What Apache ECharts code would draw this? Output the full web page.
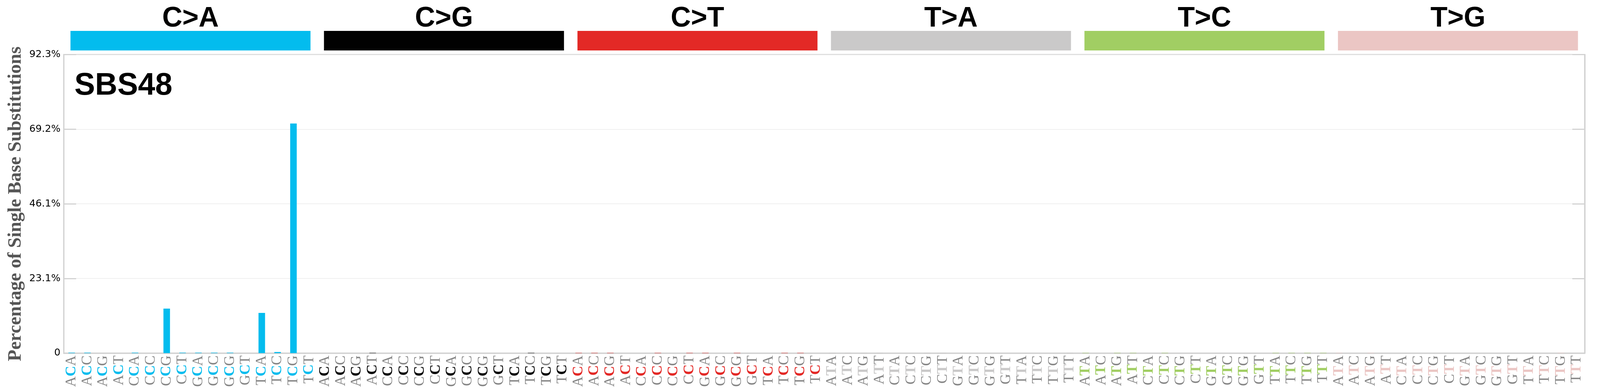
<!DOCTYPE html>
<html><head><meta charset="utf-8">
<script src="https://cdn.jsdelivr.net/npm/echarts@6/dist/echarts.min.js"></script>
<style>html,body{margin:0;padding:0;background:#fff;overflow:hidden}#c{width:100vw;height:100vh}</style>
</head><body><div id="c"></div>
<script>
const mutationTypes = ['C>A', 'C>G', 'C>T', 'T>A', 'T>C', 'T>G'];
const typeColors = ['#03BCEE', '#010101', '#E32926', '#CAC9C9', '#A1CE63', '#EBC6C4'];
const bases = ['A', 'C', 'G', 'T'];
const refBases = ['C', 'C', 'C', 'T', 'T', 'T'];
const yTickLabels = ['0', '23.1%', '46.1%', '69.2%', '92.3%'];
const yMax = 92.3;
const yStep = 23.075;
const signatureName = 'SBS48';
const yTitle = 'Percentage of Single Base Substitutions';

// percent of single base substitutions, 16 contexts per mutation type (5' A..T, 3' A..T)
const valCA = [0.15, 0.15, 0, 0, 0.15, 0, 13.78, 0.15, 0.15, 0.15, 0.15, 0, 12.45, 0.35, 71.0, 0];
const valCG = [0, 0, 0, 0.1, 0, 0, 0, 0, 0, 0, 0, 0, 0, 0.1, 0, 0];
const valCT = [0.1, 0.1, 0.1, 0, 0, 0.1, 0, 0.1, 0.1, 0, 0.1, 0, 0, 0.1, 0.1, 0];
const valTA = [0.1, 0.1, 0.1, 0.1, 0, 0, 0.1, 0.1, 0, 0, 0, 0, 0, 0, 0, 0.1];
const valTC = [0.1, 0, 0.1, 0.1, 0, 0.1, 0, 0, 0, 0, 0, 0, 0.1, 0.1, 0.1, 0.1];
const valTG = [0.1, 0, 0.1, 0, 0, 0, 0, 0, 0, 0, 0, 0, 0, 0, 0.1, 0];
const groupBand = [1, 1, 1, 1, 1, 1];

const groupValues = [valCA, valCG, valCT, valTA, valTC, valTG];
const categories = [];
const catGroup = [];
const values = [];
mutationTypes.forEach((t, g) => {
  let k = 0;
  bases.forEach(b5 => {
    bases.forEach(b3 => {
      categories.push(b5 + refBases[g] + b3);
      catGroup.push(g);
      values.push({ value: groupValues[g][k], itemStyle: { color: typeColors[g] } });
      k++;
    });
  });
});

const el = document.getElementById('c');
const W = el.clientWidth, H = el.clientHeight;
const sx = W / 4393, sy = H / 992, sf = Math.sqrt(sx * sy);
const X = v => v * sx, Y = v => v * sy, F = v => v * sf, FV = v => v * sy;

const rich = { g: { fontFamily: 'Liberation Serif', fontSize: FV(37), color: '#858585' } };
typeColors.forEach((c, i) => {
  rich['m' + i] = { fontFamily: 'Liberation Serif', fontSize: FV(37), fontWeight: 'bold', color: c };
});

const chart = echarts.init(el, null, { renderer: 'canvas' });
chart.setOption({
  animation: false,
  backgroundColor: '#fff',
  title: {
    text: signatureName, left: X(199), top: Y(176),
    textStyle: { fontFamily: 'Liberation Sans', fontWeight: 'bold', fontSize: F(82), color: '#000' }
  },
  grid: [
    { left: X(175), right: X(42), top: Y(139.5), bottom: Y(89), show: true, borderColor: '#d3d3d3', borderWidth: 3 },
    { left: X(175), right: X(42), top: Y(79), height: Y(50) }
  ],
  xAxis: [
    {
      type: 'category', gridIndex: 0, data: categories,
      axisLine: { show: true, lineStyle: { color: '#d3d3d3', width: 3 } },
      axisTick: { show: false },
      axisLabel: {
        interval: 0, rotate: 90, margin: Y(6),
        formatter: (v, i) => '{g|' + v[0] + '}{m' + catGroup[i] + '|' + v[1] + '}{g|' + v[2] + '}',
        rich: rich
      },
      splitLine: { show: false }
    },
    {
      type: 'category', gridIndex: 1, data: mutationTypes,
      axisLine: { show: false }, axisTick: { show: false }, axisLabel: { show: false }
    }
  ],
  yAxis: [
    {
      type: 'value', gridIndex: 0, min: 0, max: yMax, interval: yStep,
      name: yTitle, nameLocation: 'middle', nameRotate: 90, nameGap: X(88),
      nameTextStyle: { fontFamily: 'Liberation Serif', fontWeight: 'bold', fontSize: FV(48), color: '#555555' },
      axisLine: { show: true, lineStyle: { color: '#d3d3d3', width: 3 } },
      axisTick: { show: true, inside: true, length: X(34), lineStyle: { color: '#d3d3d3', width: 3 } },
      axisLabel: {
        margin: X(9), fontFamily: 'DejaVu Sans', fontSize: F(26), color: '#000',
        formatter: v => yTickLabels[Math.round(v / yStep)]
      },
      splitLine: { show: true, lineStyle: { color: '#ebebeb', width: 1.5 } }
    },
    {
      type: 'value', gridIndex: 0, min: 0, max: yMax, interval: yStep, position: 'right',
      axisLine: { show: true, lineStyle: { color: '#d3d3d3', width: 3 } },
      axisTick: { show: true, inside: true, length: X(34), lineStyle: { color: '#d3d3d3', width: 3 } },
      axisLabel: { show: false }, splitLine: { show: false }
    },
    {
      type: 'value', gridIndex: 1, min: 0, max: 1, show: false
    }
  ],
  series: [
    {
      type: 'bar', xAxisIndex: 0, yAxisIndex: 0, data: values, barWidth: X(18)
    },
    {
      type: 'bar', xAxisIndex: 1, yAxisIndex: 2, barWidth: X(659),
      data: groupBand.map((v, i) => ({ value: v, itemStyle: { color: typeColors[i] } })),
      label: {
        show: true, position: 'top', distance: Y(-5),
        formatter: p => mutationTypes[p.dataIndex],
        fontFamily: 'Liberation Sans', fontWeight: 'bold', fontSize: F(74), color: '#000'
      }
    }
  ]
});
</script></body></html>
